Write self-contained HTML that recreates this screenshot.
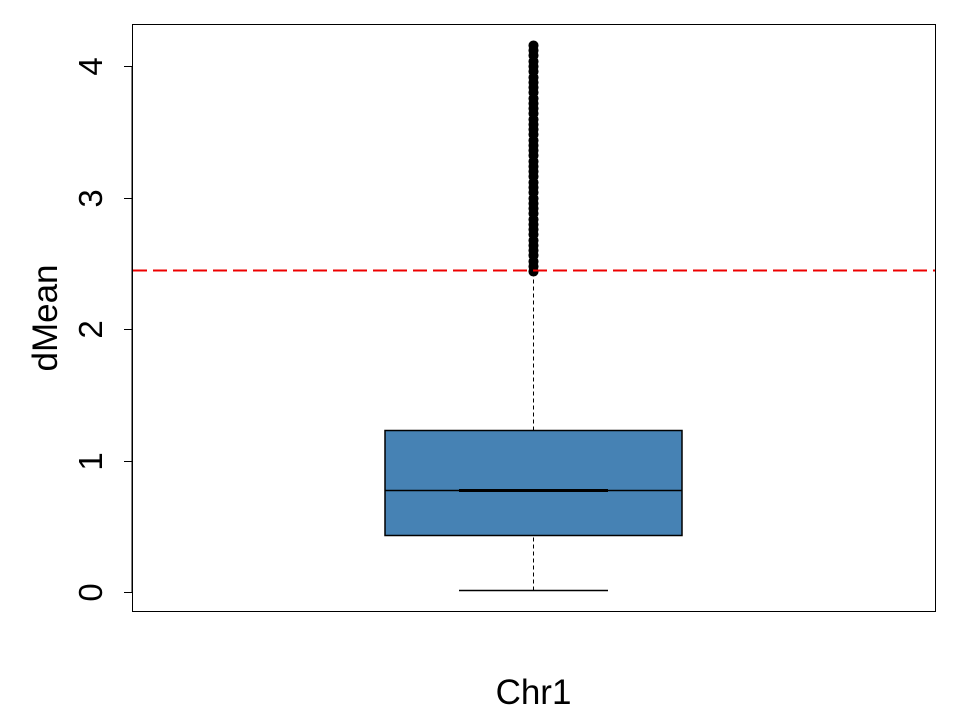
<!DOCTYPE html>
<html><head><meta charset="utf-8"><style>body{margin:0;background:#fff}svg{display:block}text{font-family:"Liberation Sans",Arial,sans-serif}</style></head>
<body>
<svg id="chart" width="960" height="720" xmlns="http://www.w3.org/2000/svg">
<rect x="132.5" y="24.5" width="803" height="587" fill="none" stroke="#000" stroke-width="1"/>
<g id="g"></g>
</svg>
<script>
const categories=["Chr1"];
const yTicks=[0,1,2,3,4];
const stats={min:[0.015],q1:[0.43],median:[0.776],q3:[1.23],max:[2.44]};
const notch=[0.03];
const threshold=[2.445];
const outliers=[2.44,2.48,2.52,2.56,2.6,2.64,2.68,2.72,2.76,2.8,2.84,2.88,2.92,2.96,3.0,3.04,3.08,3.12,3.16,3.2,3.24,3.28,3.32,3.36,3.4,3.44,3.48,3.52,3.56,3.6,3.64,3.68,3.72,3.76,3.8,3.84,3.88,3.92,3.96,4.0,4.04,4.08,4.12,4.16];
const NS="http://www.w3.org/2000/svg",g=document.getElementById('g');
const y=v=>Math.round(592-v*131.5)+0.5;
const x=i=>533.5;
function mk(t,a){const e=document.createElementNS(NS,t);for(const k in a)e.setAttribute(k,a[k]);g.appendChild(e);return e;}
yTicks.forEach(t=>{
 const l=mk('line',{x1:132,x2:124,y1:y(t),y2:y(t),stroke:'#000'});
 
 
 const tx=mk('text',{x:0,y:0,'font-size':33,'text-anchor':'middle',transform:`translate(102,${y(t)}) rotate(-90)`});
 tx.textContent=t;
 
 
});
const yl=mk('line',{x1:132,x2:132,y1:y(0),y2:y(4),stroke:'#000'});


const yt=mk('text',{x:0,y:0,'font-size':35,'text-anchor':'middle',transform:'translate(57,318) rotate(-90)'});
yt.textContent='dMean';


categories.forEach((c,i)=>{
 const cx=x(i),hw=148.5,hw2=74.5;
 const w1=mk('line',{x1:cx,x2:cx,y1:y(stats.min[i]),y2:y(stats.q1[i]),stroke:'#000','stroke-dasharray':'4,3'});
 
 
 const w2=mk('line',{x1:cx,x2:cx,y1:y(stats.q3[i]),y2:y(stats.max[i]),stroke:'#000','stroke-dasharray':'4,3'});
 
 
 const cap=mk('line',{x1:cx-hw2,x2:cx+hw2,y1:y(stats.min[i]),y2:y(stats.min[i]),stroke:'#000','stroke-width':1.5});
 
 
 const m=stats.median[i];
 const b=mk('rect',{x:cx-hw,y:y(stats.q3[i]),width:2*hw,height:y(stats.q1[i])-y(stats.q3[i]),fill:'#4682b4',stroke:'#000','stroke-width':1.5});
 
 
 const ml=mk('line',{x1:cx-hw,x2:cx+hw,y1:y(m),y2:y(m),stroke:'#000','stroke-width':1.5});
 
 
 const mt=mk('line',{x1:cx-hw2,x2:cx+hw2,y1:y(m),y2:y(m),stroke:'#000','stroke-width':3});
 
 
 outliers.forEach(v=>{
  const o=mk('circle',{cx:cx,cy:y(v),r:4.3,fill:'#000',stroke:'#000','stroke-width':1.5});
  
  
 });
 const xl=mk('text',{x:cx,y:704,'font-size':35,'text-anchor':'middle'});
 xl.textContent=c;
 
 
});
const th=mk('line',{x1:133,x2:935,y1:y(threshold[0]),y2:y(threshold[0]),stroke:'#e00','stroke-width':2,'stroke-dasharray':'14,6'});


</script>
</body></html>
